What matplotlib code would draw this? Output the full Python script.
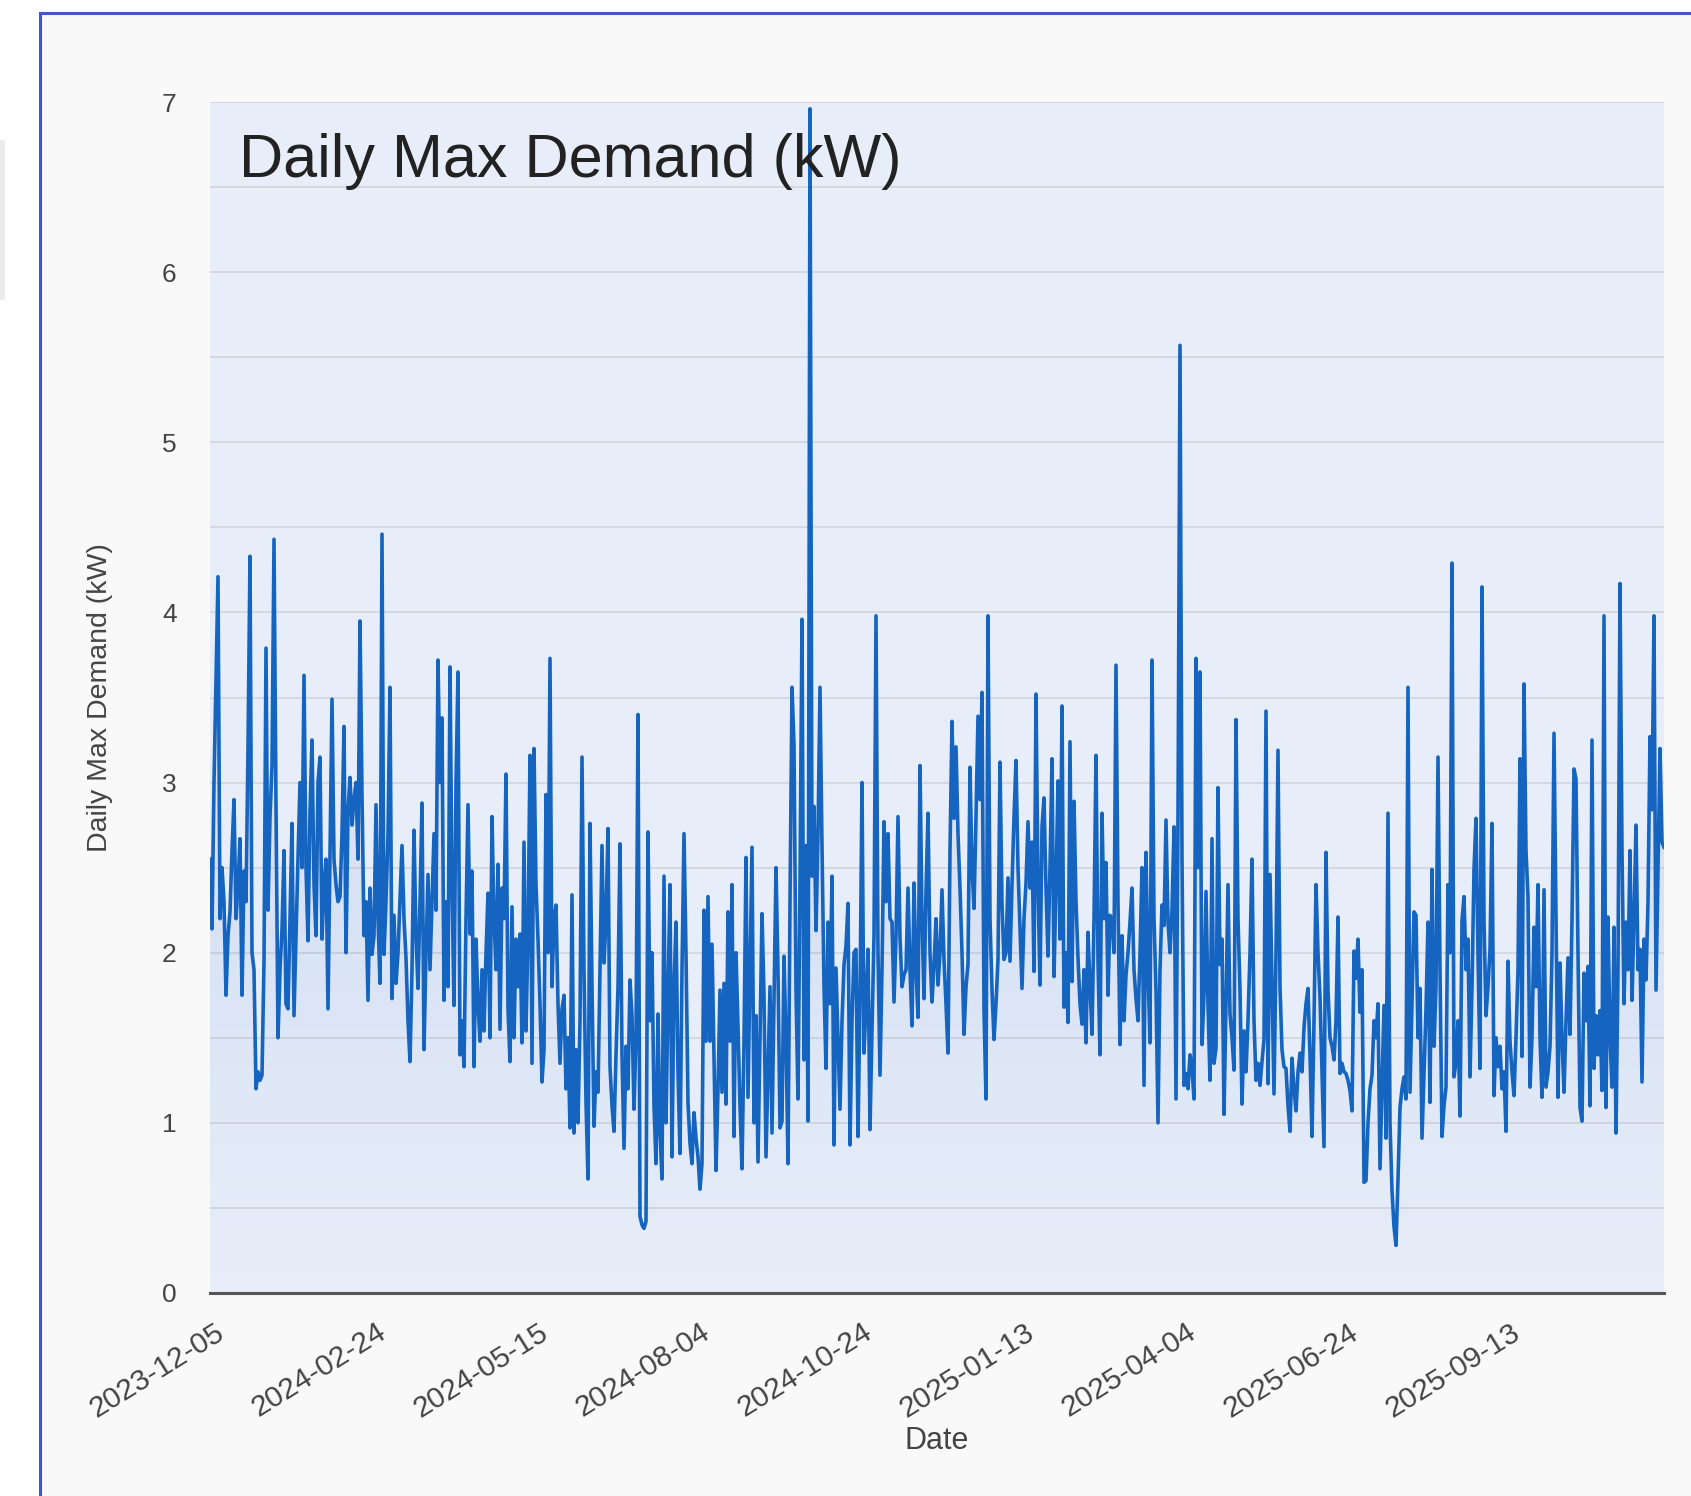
import numpy as np
import pandas as pd
import matplotlib
matplotlib.use('Agg')
import matplotlib.pyplot as plt
import matplotlib.dates as mdates
from matplotlib.colors import LinearSegmentedColormap
from matplotlib.lines import Line2D
from matplotlib.patches import Rectangle
from matplotlib.transforms import ScaledTranslation

# Daily max demand (kW), starting 2023-12-05
start_date = '2023-12-05'

demand_q1 = [
    2.55, 2.14, 3.0, 3.6, 4.21, 2.2, 2.5, 2.3, 1.75, 2.1,
    2.24, 2.6, 2.9, 2.2, 2.4, 2.67, 1.75, 2.48, 2.3, 3.2,
    4.33, 2.0, 1.9, 1.2, 1.3, 1.25, 1.28, 1.95, 3.79, 2.25,
    2.8, 3.1, 4.43, 2.87, 1.5, 1.9, 2.14, 2.6, 1.7, 1.67,
    2.2, 2.76, 1.63, 2.1, 2.56, 3.0, 2.5, 3.63, 2.5, 2.07,
    2.83, 3.25, 2.4, 2.1, 3.0, 3.15, 2.08, 2.4, 2.55, 1.67,
    2.6, 3.49, 2.55, 2.4, 2.3, 2.33, 2.7, 3.33, 2.0, 2.83,
    3.03, 2.75, 2.9, 3.0, 2.55, 3.95, 2.93, 2.1, 2.3, 1.72,
    2.38, 1.99, 2.1, 2.87, 2.2, 1.82, 4.46, 1.99, 2.3, 2.7,
]
demand_q2 = [
    3.56, 1.73, 2.22, 1.82, 2.0, 2.31, 2.63, 2.2, 1.97, 1.6,
    1.36, 1.9, 2.72, 2.1, 1.79, 2.3, 2.88, 1.43, 2.0, 2.46,
    1.9, 2.3, 2.7, 2.25, 3.72, 3.0, 3.38, 1.72, 2.3, 1.8,
    3.68, 2.4, 1.69, 3.0, 3.65, 1.4, 1.6, 1.33, 2.2, 2.87,
    2.11, 2.48, 1.33, 2.08, 1.7, 1.48, 1.9, 1.54, 2.0, 2.35,
    1.5, 2.8, 2.2, 1.9, 2.52, 1.55, 2.38, 2.2, 3.05, 1.67,
    1.36, 2.27, 1.5, 2.08, 1.8, 2.11, 1.47, 2.65, 1.54, 2.1,
    3.16, 1.35, 3.2, 2.4, 2.08, 1.7, 1.24, 1.43, 2.93, 2.0,
    3.73, 1.8, 2.2, 2.28, 1.7, 1.35, 1.67, 1.75, 1.2, 1.5,
]
demand_q3 = [
    0.97, 2.34, 0.94, 1.43, 1.0, 1.6, 3.15, 1.9, 1.12, 0.67,
    2.76, 1.8, 0.98, 1.3, 1.18, 1.9, 2.63, 1.94, 2.2, 2.73,
    1.33, 1.1, 0.95, 1.4, 1.8, 2.64, 1.4, 0.85, 1.45, 1.2,
    1.84, 1.63, 1.08, 1.5, 3.4, 0.45, 0.4, 0.38, 0.42, 2.71,
    1.6, 2.0, 1.1, 0.76, 1.64, 0.94, 0.67, 2.45, 1.0, 1.73,
    2.4, 0.8, 1.8, 2.18, 1.3, 0.82, 1.9, 2.7, 2.0, 1.12,
    0.88, 0.76, 1.06, 0.91, 0.8, 0.61, 0.76, 2.25, 1.48, 2.33,
    1.48, 2.05, 1.4, 0.72, 1.2, 1.78, 1.18, 1.82, 1.11, 2.24,
    1.48, 2.4, 0.92, 2.0, 1.57, 1.1, 0.73, 1.48, 2.56, 1.15,
]
demand_q4 = [
    1.9, 2.62, 1.0, 1.63, 0.77, 1.5, 2.23, 1.75, 0.8, 1.3,
    1.8, 0.94, 1.7, 2.5, 1.9, 0.97, 1.01, 1.98, 1.5, 0.76,
    2.3, 3.56, 3.22, 1.78, 1.14, 2.41, 3.96, 1.37, 2.63, 1.01,
    6.96, 2.45, 2.86, 2.13, 2.7, 3.56, 2.63, 1.8, 1.32, 2.18,
    1.7, 2.45, 0.87, 1.91, 1.5, 1.08, 1.6, 1.93, 2.04, 2.29,
    0.87, 1.6, 2.0, 2.02, 0.92, 1.73, 3.0, 1.41, 1.7, 2.02,
    0.96, 1.55, 2.1, 3.98, 2.0, 1.28, 1.9, 2.77, 2.3, 2.7,
    2.2, 2.18, 1.71, 2.1, 2.8, 2.09, 1.8, 1.87, 1.9, 2.38,
    1.9, 1.57, 2.41, 1.9, 1.62, 3.1, 2.2, 1.73, 2.36, 2.82,
]
demand_q5 = [
    2.0, 1.71, 1.93, 2.2, 1.81, 2.0, 2.37, 1.96, 1.7, 1.41,
    2.6, 3.36, 2.79, 3.21, 2.7, 2.38, 2.0, 1.52, 1.8, 1.93,
    3.09, 2.5, 2.26, 2.8, 3.39, 2.9, 3.53, 1.66, 1.14, 3.98,
    2.2, 1.78, 1.49, 1.7, 1.96, 3.12, 2.29, 1.96, 2.0, 2.44,
    1.95, 2.4, 2.8, 3.13, 2.5, 2.14, 1.79, 2.2, 2.41, 2.77,
    2.38, 2.65, 1.89, 3.52, 2.4, 1.81, 2.74, 2.91, 2.38, 1.98,
    2.5, 3.14, 1.86, 2.4, 3.01, 2.08, 3.45, 1.68, 2.0, 1.59,
    3.24, 1.83, 2.89, 2.3, 1.97, 1.7, 1.58, 1.9, 1.47, 2.12,
    1.8, 1.52, 2.2, 3.16, 1.95, 1.4, 2.82, 2.2, 2.53, 1.75,
]
demand_q6 = [
    2.22, 2.2, 2.0, 3.69, 2.3, 1.46, 2.1, 1.6, 1.87, 2.0,
    2.18, 2.38, 1.9, 1.73, 1.6, 2.0, 2.5, 1.22, 2.59, 1.9,
    1.47, 3.72, 2.2, 1.78, 1.0, 1.9, 2.28, 2.16, 2.78, 2.18,
    2.0, 2.25, 2.74, 1.14, 2.8, 5.57, 2.56, 1.22, 1.29, 1.2,
    1.4, 1.32, 1.14, 3.73, 2.5, 3.65, 1.46, 1.75, 2.36, 1.7,
    1.25, 2.67, 1.35, 1.44, 2.97, 1.93, 2.08, 1.05, 1.7, 2.4,
    1.64, 1.5, 1.31, 3.37, 2.2, 1.78, 1.11, 1.54, 1.3, 1.6,
    2.0, 2.55, 1.6, 1.25, 1.35, 1.22, 1.36, 1.49, 3.42, 1.23,
    2.46, 1.8, 1.17, 2.0, 3.19, 1.8, 1.43, 1.33, 1.32, 1.1,
]
demand_q7 = [
    0.95, 1.38, 1.2, 1.07, 1.3, 1.41, 1.3, 1.56, 1.7, 1.79,
    1.4, 0.92, 1.6, 2.4, 2.0, 1.74, 1.3, 0.86, 2.59, 1.78,
    1.5, 1.45, 1.37, 1.6, 2.21, 1.29, 1.35, 1.3, 1.29, 1.25,
    1.19, 1.07, 2.01, 1.85, 2.08, 1.65, 1.9, 0.65, 0.66, 1.0,
    1.2, 1.28, 1.6, 1.5, 1.7, 0.73, 1.2, 1.69, 0.91, 2.82,
    1.0, 0.6, 0.39, 0.28, 0.67, 1.09, 1.2, 1.27, 1.14, 3.56,
    1.18, 1.7, 2.24, 2.22, 1.5, 1.79, 0.91, 1.3, 1.67, 2.18,
    1.12, 2.49, 1.45, 1.8, 3.15, 1.9, 0.92, 1.1, 1.21, 2.4,
    2.0, 4.29, 1.27, 1.36, 1.6, 1.04, 2.19, 2.33, 1.9, 2.08,
]
demand_q8 = [
    1.27, 1.8, 2.49, 2.79, 2.0, 1.32, 4.15, 2.2, 1.63, 1.8,
    2.02, 2.76, 1.16, 1.5, 1.33, 1.45, 1.2, 1.3, 0.95, 1.95,
    1.48, 1.3, 1.16, 1.5, 1.9, 3.14, 1.39, 3.58, 2.6, 2.33,
    1.21, 1.5, 2.15, 1.8, 2.4, 1.5, 1.15, 2.37, 1.21, 1.3,
    1.45, 2.0, 3.29, 2.2, 1.15, 1.94, 1.5, 1.18, 1.6, 1.97,
    1.52, 2.2, 3.08, 3.02, 2.0, 1.09, 1.01, 1.88, 1.6, 1.92,
    1.1, 3.25, 1.32, 1.63, 1.4, 1.66, 1.19, 3.98, 1.09, 2.21,
    1.5, 1.21, 2.15, 0.94, 1.9, 4.17, 2.6, 1.7, 2.18, 1.9,
    2.6, 1.72, 2.2, 2.75, 1.9, 2.02, 1.24, 2.08, 1.84, 2.3,
    3.27, 2.84, 3.98, 1.78, 2.5, 3.2, 2.65, 2.62,
]

tick_labels = ['2023-12-05', '2024-02-24', '2024-05-15', '2024-08-04', '2024-10-24',
               '2025-01-13', '2025-04-04', '2025-06-24', '2025-09-13']
y_ticks = [0, 1, 2, 3, 4, 5, 6, 7]

demand = np.array(demand_q1 + demand_q2 + demand_q3 + demand_q4 +
                  demand_q5 + demand_q6 + demand_q7 + demand_q8)
dates = pd.date_range(start_date, periods=len(demand), freq='D')

plt.rcParams['font.family'] = ['Liberation Sans', 'DejaVu Sans']

W, H = 1691, 1496
fig = plt.figure(figsize=(W / 100, H / 100), dpi=100, facecolor='#f9f9f9')

# white strip outside the card frame, and the card's blue border
fig.add_artist(Rectangle((0, 0), 39 / W, 1, transform=fig.transFigure,
                         facecolor='white', edgecolor='none', zorder=0))
fig.add_artist(Rectangle((0, 1 - 12 / H), 1, 12 / H, transform=fig.transFigure,
                         facecolor='white', edgecolor='none', zorder=0))
fig.add_artist(Rectangle((0, 1 - 300 / H), 5 / W, 160 / H, transform=fig.transFigure,
                         facecolor='#ececec', edgecolor='none', zorder=0))
fig.add_artist(Line2D([40 / W, 40 / W], [0, 1 - 13 / H], transform=fig.transFigure,
                      color='#4656c2', lw=2.2))
fig.add_artist(Line2D([40 / W, 1], [1 - 13 / H, 1 - 13 / H], transform=fig.transFigure,
                      color='#4656c2', lw=2.2))

ax = fig.add_axes([210 / W, 1 - 1293 / H, 1454 / W, 1191 / H])
ax.set_facecolor('#e8eef9')

# soft gradient under the line
fill = ax.fill_between(dates, demand, 0, facecolor='none', edgecolor='none')
x0, x1 = mdates.date2num(dates[0]), mdates.date2num(dates[-1])
grad_cmap = LinearSegmentedColormap.from_list(
    'grad', [(0.08, 0.35, 0.75, 0.0), (0.08, 0.35, 0.75, 0.08), (0.08, 0.35, 0.75, 0.05)])
grad = np.linspace(0, 1, 256).reshape(-1, 1)
img = ax.imshow(grad, extent=[x0, x1, 0, 4.5], origin='lower', aspect='auto',
                cmap=grad_cmap, zorder=1, interpolation='bilinear')
img.set_clip_path(fill.get_paths()[0], transform=ax.transData)

ax.plot(dates, demand, color='#1565c0', lw=2.6, zorder=3)

ax.set_xlim(dates[0], dates[-1])
ax.set_ylim(0, 7)

ax.set_yticks(y_ticks)
ax.set_yticks(np.arange(0.5, 7, 1.0), minor=True)
ax.yaxis.grid(True, which='both', color='#d2d5da', lw=1.2, zorder=0)
ax.set_axisbelow(True)
ax.tick_params(axis='y', which='both', length=0, pad=24, labelsize=19, labelcolor='#444444')

ax.set_xticks(pd.to_datetime(tick_labels))
ax.set_xticklabels(tick_labels, rotation=32, ha='right', rotation_mode='anchor')
ax.tick_params(axis='x', length=0, pad=18, labelsize=21.5, labelcolor='#444444')
shift = ScaledTranslation(4 / 100, 0, fig.dpi_scale_trans)
for lab in ax.get_xticklabels():
    lab.set_transform(lab.get_transform() + shift)

for side in ['top', 'right', 'left']:
    ax.spines[side].set_visible(False)
ax.spines['bottom'].set_color('#555555')
ax.spines['bottom'].set_linewidth(2.2)
ax.spines['bottom'].set_zorder(4)

ax.set_xlabel('Date', fontsize=22, color='#444444', va='center')
ax.xaxis.set_label_coords(0.5, (1293 - 1441) / 1191)
ax.set_ylabel('Daily Max Demand (kW)', fontsize=20.5, color='#444444', va='center')
ax.yaxis.set_label_coords((100 - 210) / 1454, 0.5)

ax.text(0.02, 0.95, 'Daily Max Demand (kW)', transform=ax.transAxes,
        fontsize=44, color='#222222', ha='left', va='center', zorder=5)

fig.savefig('out.png', dpi=100, facecolor=fig.get_facecolor())
